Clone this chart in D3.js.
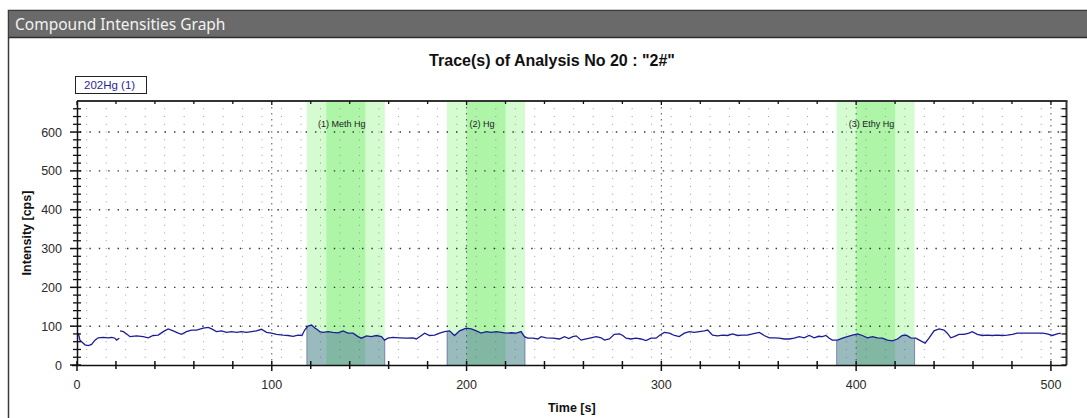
<!DOCTYPE html>
<html>
<head>
<meta charset="utf-8">
<script src="https://cdn.jsdelivr.net/npm/d3@7"></script>
<style>
  body { margin: 0; background: #fff; }
  svg { display: block; }
</style>
</head>
<body>
<svg id="chart" width="1087" height="418"></svg>
<script>
// Trace 202Hg (1): time [s] and intensity [cps]; null marks a break in the record
const times = [
  0.7, 1.5, 4.1, 5.8, 7.5, 9.2, 10.9, 13.5, 16.1, 17.8, 19.5, 20.3, 21.7, 21.9,
  22.1, 23.8, 25.5, 27.2, 30.6, 34, 36.6, 39.1, 41.7, 44.3, 46.8, 49.4, 52, 53.7,
  56.2, 58.8, 61.4, 64.8, 67.4, 69.1, 71.6, 74.2, 76.8, 79.3, 81.9, 84.4, 87, 89.6,
  92.1, 94.7, 97.3, 99.8, 102.4, 105.8, 108.4, 110.9, 113.5, 115.5, 116.9, 118.6,
  120.4, 122, 123.7, 124.6, 126.3, 128.9, 131.4, 134, 136.6, 139.1, 141.7, 144.3,
  146, 148.6, 151.1, 153.7, 156.3, 157.9, 159.6, 162.2, 165.6, 169.1, 172.5, 174.2,
  175.9, 178.5, 181, 183.6, 186.2, 188.7, 191.3, 193.8, 196.4, 199.8, 202.4, 205,
  207.5, 210.1, 212.7, 215.2, 217.8, 220.4, 222.9, 225.5, 228, 229.7, 231.4, 234,
  236.6, 238.3, 240.9, 244.3, 247.7, 250.3, 252.5, 254.5, 256.3, 258.8, 261.4,
  263.9, 266.5, 269.1, 270.8, 273.3, 275.9, 278.5, 280.2, 281.9, 284.4, 287, 289.6,
  292.1, 294.7, 297.3, 299, 301.5, 304.1, 306.7, 309.2, 311.8, 314.4, 316.9, 319.5,
  322.1, 323.8, 326.3, 328.9, 331.4, 334, 336.6, 339.1, 341.7, 344.3, 346.8, 350.3,
  352.8, 355.4, 357.9, 360.5, 363.1, 365.6, 368.2, 370.8, 373.3, 375.9, 378.5,
  380.7, 382.7, 384.5, 386.2, 387.8, 390.4, 393, 395.5, 398.1, 400.7, 403.2, 405.8,
  408.4, 410.9, 413.5, 416.1, 418.6, 421.2, 423.7, 425.8, 428, 430.6, 433.2, 435.4,
  437.4, 440, 442.6, 445.1, 446.8, 448.6, 450.3, 452.8, 455.4, 457.9, 459.6, 462.2,
  464.8, 467.3, 469.9, 472.5, 475, 477.6, 480.2, 482.7, 485.3, 487.9, 490.4, 493,
  495.6, 498.1, 500.7, 503.2, 505
];
const intensity = [
  82, 64, 52, 50, 53, 64, 70, 71, 70, 71, 69, 64, 69, null,
  88, 86, 80, 73, 75, 73, 70, 76, 77, 86, 93, 88, 82, 79,
  86, 90, 90, 95, 97, 93, 86, 88, 84, 86, 84, 86, 84, 86,
  88, 92, 84, 82, 79, 77, 76, 74, 77, 76, 90, 100,
  103, 96, 90, 86, 84, 86, 84, 83, 88, 82, 82, 73,
  69, 75, 73, 76, 73, 64, 69, 71, 70, 69, 70, 67,
  73, 82, 76, 77, 82, 86, 88, 76, 88, 95, 93, 88,
  82, 86, 84, 86, 84, 82, 83, 82, 86, 73, 69, 69,
  67, 73, 70, 69, 67, 73, 68, 73, 75, 64, 67,
  70, 73, 70, 64, 67, 79, 80, 76, 69, 67, 69, 67,
  63, 69, 69, 76, 84, 82, 76, 73, 82, 86, 84, 86,
  88, 90, 77, 75, 77, 76, 80, 76, 77, 77, 80, 84,
  76, 70, 70, 69, 67, 67, 69, 73, 70, 76, 70,
  74, 73, 76, 69, 64, 64, 69, 73, 77, 80, 76, 70,
  73, 70, 69, 64, 62, 67, 76, 77, 70, 69, 62, 56,
  69, 88, 93, 90, 82, 70, 73, 79, 79, 82, 86, 79,
  76, 77, 76, 77, 76, 77, 79, 82, 82, 82, 82, 82,
  82, 80, 76, 80, 82
];

// Integration windows of the three compounds
const peakNames = ["(1) Meth Hg", "(2) Hg", "(3) Ethy Hg"];
const peakStart = [118, 190, 390];
const peakEnd = [158, 230, 430];
const coreStart = [128, 200, 400];
const coreEnd = [148, 220, 420];

// Axis ticks
const xTickLabels = [0, 100, 200, 300, 400, 500];
const yTickLabels = [0, 100, 200, 300, 400, 500, 600];
const xMinorTicks = d3.range(0, 508, 20);
const yMinorTicks = d3.range(0, 680, 20);

const svg = d3.select("#chart");
const W = 1087, H = 418;

// Window frame and caption bar
svg.append("rect").attr("x", 0).attr("y", 0).attr("width", W).attr("height", H).attr("fill", "#fff");
svg.append("rect").attr("x", 8.5).attr("y", 10.5).attr("width", W).attr("height", H)
  .attr("fill", "#fff").attr("stroke", "#3a3a3a").attr("stroke-width", 1.5);
svg.append("rect").attr("x", 9).attr("y", 11).attr("width", W - 9).attr("height", 26).attr("fill", "#6a6a6a");
svg.append("line").attr("x1", 9).attr("x2", W).attr("y1", 37.5).attr("y2", 37.5)
  .attr("stroke", "#2e2e2e").attr("stroke-width", 1.5);
svg.append("text").attr("x", 15).attr("y", 29.5)
  .attr("font-family", "'Noto Sans', 'DejaVu Sans', sans-serif").attr("font-size", 15.5)
  .attr("fill", "#f2f2f2").text("Compound Intensities Graph");

const plotL = 77, plotR = 1066.5, plotT = 101, plotB = 365;
const x = d3.scaleLinear().domain([0, 508]).range([plotL, plotR]);
const y = d3.scaleLinear().domain([0, 680]).range([plotB, plotT]);

// Chart title
svg.append("text").attr("x", 552).attr("y", 66).attr("text-anchor", "middle")
  .attr("font-family", "'Liberation Sans', Arial, sans-serif").attr("font-size", 16)
  .attr("font-weight", "bold").attr("fill", "#111")
  .text('Trace(s) of Analysis No 20 : "2#"');

// Legend
svg.append("rect").attr("x", 75.5).attr("y", 76.5).attr("width", 71).attr("height", 17)
  .attr("fill", "#fff").attr("stroke", "#222").attr("stroke-width", 1);
svg.append("text").attr("x", 84).attr("y", 89)
  .attr("font-family", "'Liberation Sans', Arial, sans-serif").attr("font-size", 11.5)
  .attr("fill", "#2a1f9a").text("202Hg (1)");

// Compound windows: outer (light) and core (stronger) green bands
const bands = svg.append("g");
peakNames.forEach((name, i) => {
  bands.append("rect").attr("x", x(peakStart[i])).attr("y", plotT)
    .attr("width", x(peakEnd[i]) - x(peakStart[i])).attr("height", plotB - plotT)
    .attr("fill", "#d5fbd0");
  bands.append("rect").attr("x", x(coreStart[i])).attr("y", plotT)
    .attr("width", x(coreEnd[i]) - x(coreStart[i])).attr("height", plotB - plotT)
    .attr("fill", "#aef5a8");
});

// Dotted grid
const grid = svg.append("g");
// minor lattice of dots
const minorX = d3.range(5, 508, 10);
const minorY = d3.range(20, 680, 20);
minorX.forEach(tx => {
  minorY.forEach(ty => {
    grid.append("rect").attr("x", x(tx) - 0.5).attr("y", y(ty) - 0.5)
      .attr("width", 1).attr("height", 1).attr("fill", "#9a9a9a");
  });
});
// major horizontal rows
yTickLabels.filter(v => v > 0).forEach(v => {
  grid.append("line").attr("x1", plotL + 3).attr("x2", plotR).attr("y1", y(v)).attr("y2", y(v))
    .attr("stroke", "#333").attr("stroke-width", 1.4).attr("stroke-dasharray", "1.4 8");
});
// major vertical columns
xTickLabels.filter(v => v > 0).forEach(v => {
  grid.append("line").attr("x1", x(v)).attr("x2", x(v)).attr("y1", plotT).attr("y2", plotB)
    .attr("stroke", "#555").attr("stroke-width", 1).attr("stroke-dasharray", "1.5 4.5");
});

// Integrated area under the trace within each window
const pts = times.map((t, i) => ({ t, v: intensity[i] }));
const valid = pts.filter(p => p.v !== null);
const defs = svg.append("defs");
const area = d3.area().defined(d => d.v !== null)
  .x(d => x(d.t)).y0(y(0)).y1(d => y(d.v));
peakNames.forEach((name, i) => {
  defs.append("clipPath").attr("id", "win" + i).append("rect")
    .attr("x", x(peakStart[i])).attr("y", plotT)
    .attr("width", x(peakEnd[i]) - x(peakStart[i])).attr("height", plotB - plotT);
  svg.append("path").datum(pts).attr("d", area).attr("clip-path", `url(#win${i})`)
    .attr("fill", "rgba(50,76,156,0.36)");
  [peakStart[i], peakEnd[i]].forEach(t => {
    svg.append("line").attr("x1", x(t)).attr("x2", x(t)).attr("y1", y(0))
      .attr("y2", y(d3.least(valid, p => Math.abs(p.t - t)).v))
      .attr("stroke", "rgba(60,70,150,0.55)").attr("stroke-width", 1);
  });
});

// Compound labels
peakNames.forEach((name, i) => {
  svg.append("text").attr("x", x((peakStart[i] + peakEnd[i]) / 2) - 4).attr("y", 127)
    .attr("text-anchor", "middle")
    .attr("font-family", "'Liberation Sans', Arial, sans-serif").attr("font-size", 9)
    .attr("fill", "#222").text(name);
});

// Trace
const line = d3.line().defined(d => d.v !== null).x(d => x(d.t)).y(d => y(d.v));
svg.append("path").datum(pts).attr("d", line)
  .attr("fill", "none").attr("stroke", "#1c1c96").attr("stroke-width", 1.3);

// Frame: top and right edges
svg.append("line").attr("x1", plotL).attr("x2", plotR + 1).attr("y1", plotT).attr("y2", plotT)
  .attr("stroke", "#333").attr("stroke-width", 2);
svg.append("line").attr("x1", plotR).attr("x2", plotR).attr("y1", plotT).attr("y2", plotB)
  .attr("stroke", "#333").attr("stroke-width", 2);

// Left axis
const axisFont = "'Liberation Sans', Arial, sans-serif";
const ax = svg.append("g");
ax.append("line").attr("x1", plotL + 0.5).attr("x2", plotL + 0.5).attr("y1", plotT).attr("y2", plotB)
  .attr("stroke", "#111").attr("stroke-width", 1.5);
yMinorTicks.forEach(v => {
  const major = v % 100 === 0;
  ax.append("line").attr("x1", plotL - (major ? 7 : 4)).attr("x2", plotL + 4)
    .attr("y1", y(v)).attr("y2", y(v)).attr("stroke", "#111").attr("stroke-width", major ? 1.5 : 1.3);
  // inward ticks on the right edge
  ax.append("line").attr("x1", plotR - 5).attr("x2", plotR)
    .attr("y1", y(v)).attr("y2", y(v)).attr("stroke", "#111").attr("stroke-width", 1.3);
});
yTickLabels.forEach(v => {
  ax.append("text").attr("x", 62).attr("y", y(v) + 4.5).attr("text-anchor", "end")
    .attr("font-family", axisFont).attr("font-size", 12.5).attr("fill", "#2a2a2a").text(v);
});

// Bottom axis
ax.append("line").attr("x1", 72).attr("x2", plotR).attr("y1", plotB + 0.5).attr("y2", plotB + 0.5)
  .attr("stroke", "#111").attr("stroke-width", 1.5);
xMinorTicks.forEach(t => {
  const major = t % 100 === 0;
  ax.append("line").attr("x1", x(t)).attr("x2", x(t))
    .attr("y1", plotB - 4).attr("y2", plotB + (major ? 6 : 4))
    .attr("stroke", "#111").attr("stroke-width", 1.5);
  ax.append("line").attr("x1", x(t)).attr("x2", x(t))
    .attr("y1", plotT).attr("y2", plotT + (major ? 4 : 3))
    .attr("stroke", "#111").attr("stroke-width", 1.3);
});
xTickLabels.forEach(t => {
  ax.append("text").attr("x", x(t)).attr("y", 389).attr("text-anchor", "middle")
    .attr("font-family", axisFont).attr("font-size", 12.5).attr("fill", "#2a2a2a").text(t);
});

// Axis titles
svg.append("text").attr("x", (plotL + plotR) / 2).attr("y", 412).attr("text-anchor", "middle")
  .attr("font-family", axisFont).attr("font-size", 12.5).attr("font-weight", "bold")
  .attr("fill", "#111").text("Time [s]");
svg.append("text").attr("transform", `translate(31,${(plotT + plotB) / 2}) rotate(-90)`)
  .attr("text-anchor", "middle")
  .attr("font-family", axisFont).attr("font-size", 12.5).attr("font-weight", "bold")
  .attr("fill", "#111").text("Intensity [cps]");
</script>
</body>
</html>
